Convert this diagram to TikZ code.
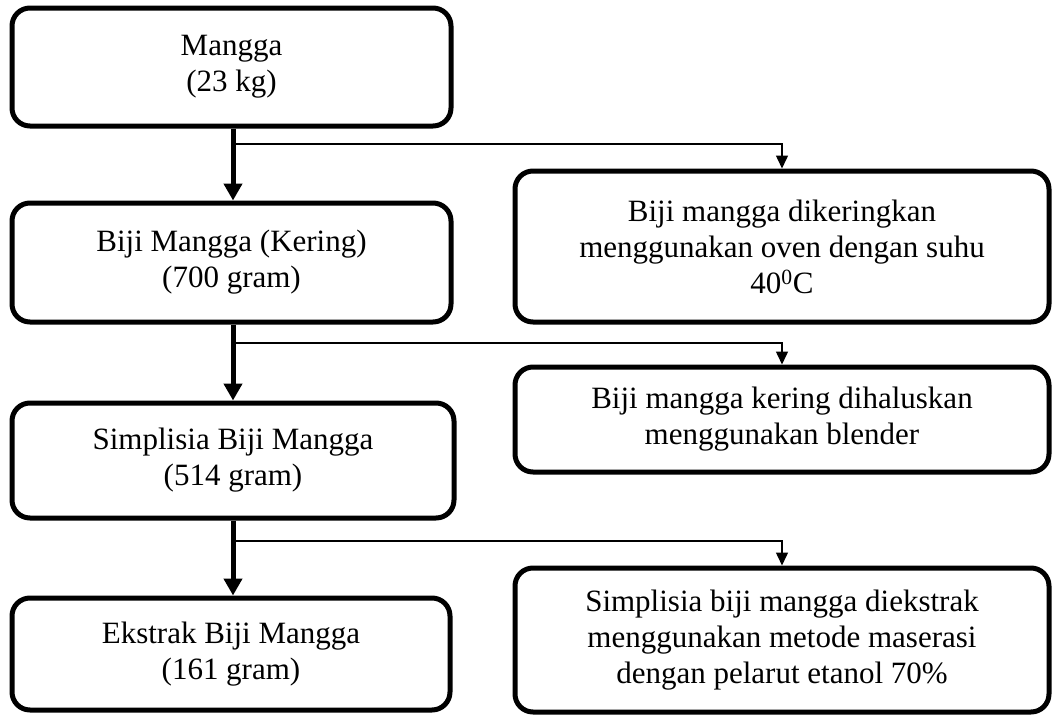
\documentclass[tikz,border=0pt]{standalone}
\usepackage{fontspec}
\setmainfont{Liberation Serif}
\usetikzlibrary{arrows.meta,calc}
\begin{document}
\begin{tikzpicture}[x=1pt,y=-1pt,
  box/.style={draw=black, line width=5pt, rounded corners=18pt, align=center,
    inner sep=0pt, font=\fontsize{31}{36}\selectfont},
  thick arrow/.style={line width=5pt, -{Triangle[width=18pt,length=17pt]}},
  thin arrow/.style={line width=1.5pt, -{Triangle[width=12pt,length=13pt]}}]
\useasboundingbox (0,0) rectangle (1053,715);
\node[box, minimum width=439pt, minimum height=118pt] (m1) at (231.5,67) {Mangga\\(23 kg)};
\node[box, minimum width=439pt, minimum height=119pt] (m2) at (231.5,262.5) {Biji Mangga (Kering)\\(700 gram)};
\node[box, minimum width=442pt, minimum height=115pt] (m3) at (233,460.5) {Simplisia Biji Mangga\\(514 gram)};
\node[box, minimum width=438pt, minimum height=112pt] (m4) at (231,654) {Ekstrak Biji Mangga\\(161 gram)};
\node[box, minimum width=534pt, minimum height=151pt] (r1) at (782,246.5) {Biji mangga dikeringkan\\menggunakan oven dengan suhu\\40\textsuperscript{0}C};
\node[box, minimum width=534pt, minimum height=105pt] (r2) at (782,419.5) {Biji mangga kering dihaluskan\\menggunakan blender};
\node[box, minimum width=534pt, minimum height=144pt] (r3) at (782,640) {Simplisia biji mangga diekstrak\\menggunakan metode maserasi\\dengan pelarut etanol 70\%};
\coordinate (j1) at (233,144);
\coordinate (j2) at (233,343);
\coordinate (j3) at (233,541);
\draw[thick arrow] (m1.south -| j1) -- (m2.north -| j1);
\draw[thick arrow] (m2.south -| j2) -- (m3.north -| j2);
\draw[thick arrow] (m3.south -| j3) -- (m4.north -| j3);
\draw[thin arrow] (j1) -| (r1.north);
\draw[thin arrow] (j2) -| (r2.north);
\draw[thin arrow] (j3) -| (r3.north);
\end{tikzpicture}
\end{document}
